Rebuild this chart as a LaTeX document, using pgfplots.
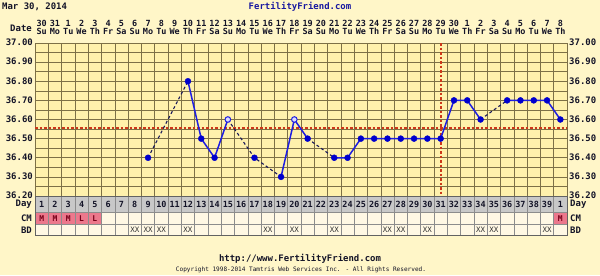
\documentclass[border=0pt]{standalone}
\usepackage{fontspec}
\usepackage{pgfplots}
\pgfplotsset{compat=1.18}
\newfontfamily\px{DejaVu Sans Mono}
\definecolor{pagebg}{RGB}{255,246,200}
\definecolor{plotbg}{RGB}{255,241,172}
\definecolor{gridc}{RGB}{125,112,70}
\definecolor{txt}{RGB}{20,20,40}
\definecolor{ttl}{RGB}{25,25,160}
\definecolor{daybg}{RGB}{200,200,200}
\definecolor{cellbd}{RGB}{140,140,140}
\definecolor{cream}{RGB}{255,248,228}
\definecolor{pink}{RGB}{236,120,140}
\definecolor{mtxt}{RGB}{120,0,25}
\definecolor{xxtxt}{RGB}{50,50,50}
\definecolor{linec}{RGB}{30,30,225}
\definecolor{markc}{RGB}{0,0,205}
\definecolor{dashc}{RGB}{25,25,90}
\definecolor{redl}{RGB}{205,55,25}
\pgfplotstableread{
x y
9 36.4
12 36.8
13 36.5
14 36.4
17 36.4
19 36.3
21 36.5
23 36.4
24 36.4
25 36.5
26 36.5
27 36.5
28 36.5
29 36.5
30 36.5
31 36.5
32 36.7
33 36.7
34 36.6
36 36.7
37 36.7
38 36.7
39 36.7
40 36.6
}\filled
\pgfplotstableread{
x y
15 36.6
20 36.6
}\open
\begin{document}
\begin{tikzpicture}[x=1bp,y=1bp,
  lab/.style={font=\px\bfseries\fontsize{9}{10}\selectfont, text=txt, inner sep=0pt},
  sml/.style={font=\px\bfseries\fontsize{8.5}{10}\selectfont, text=txt, inner sep=0pt}]
\fill[pagebg] (0,0) rectangle (600,275);
\useasboundingbox (0,0) rectangle (600,275);
% titles
\node[lab, anchor=west] at (2,268) {Mar 30, 2014};
\node[lab, text=ttl] at (300,268) {FertilityFriend.com};
% header
\node[lab, anchor=east] at (32,247) {Date};
\foreach \d [count=\i] in {30,31,1,2,3,4,5,6,7,8,9,10,11,12,13,14,15,16,17,18,19,20,21,22,23,24,25,26,27,28,29,30,1,2,3,4,5,6,7,8}
  \node[sml] at ({35+(\i-0.5)*13.3},252) {\d};
\foreach \w [count=\i] in {Su,Mo,Tu,We,Th,Fr,Sa,Su,Mo,Tu,We,Th,Fr,Sa,Su,Mo,Tu,We,Th,Fr,Sa,Su,Mo,Tu,We,Th,Fr,Sa,Su,Mo,Tu,We,Th,Fr,Sa,Su,Mo,Tu,We,Th}
  \node[sml] at ({35+(\i-0.5)*13.3},243.5) {\w};
% axis
\begin{axis}[at={(35bp,79bp)}, anchor=south west, width=532bp, height=153bp,
  scale only axis, xmin=0.5, xmax=40.5, ymin=36.2, ymax=37.0,
  axis background/.style={fill=plotbg},
  xtick={1.5,2.5,...,39.5}, xticklabel=\empty,
  ytick={36.3,36.4,36.5,36.6,36.7,36.8,36.9}, yticklabel=\empty,
  minor ytick={36.25,36.35,36.45,36.55,36.65,36.75,36.85,36.95},
  grid=both, grid style={gridc, line width=0.6bp},
  minor grid style={gridc, line width=0.6bp},
  major tick length=0pt, minor tick length=0pt,
  axis line style={gridc, line width=0.8bp},
  clip=false]
\addplot[redl, line width=2.2bp, dash pattern=on 2.5bp off 2bp] coordinates {(0.5,36.555) (40.5,36.555)};
\addplot[redl, line width=2.2bp, dash pattern=on 2.5bp off 2bp] coordinates {(31,37.0) (31,36.2)};
% dashed gaps
\addplot[dashc, line width=1.1bp, dash pattern=on 3bp off 2.5bp] coordinates {(9,36.4) (12,36.8)};
\addplot[dashc, line width=1.1bp, dash pattern=on 3bp off 2.5bp] coordinates {(15,36.6) (17,36.4) (19,36.3)};
\addplot[dashc, line width=1.1bp, dash pattern=on 3bp off 2.5bp] coordinates {(21,36.5) (23,36.4)};
\addplot[dashc, line width=1.1bp, dash pattern=on 3bp off 2.5bp] coordinates {(34,36.6) (36,36.7)};
% solid segments
\addplot[linec, line width=1.5bp] coordinates {(12,36.8) (13,36.5) (14,36.4) (15,36.6)};
\addplot[linec, line width=1.5bp] coordinates {(19,36.3) (20,36.6) (21,36.5)};
\addplot[linec, line width=1.5bp] coordinates {(23,36.4) (24,36.4) (25,36.5) (26,36.5) (27,36.5) (28,36.5) (29,36.5) (30,36.5) (31,36.5) (32,36.7) (33,36.7) (34,36.6)};
\addplot[linec, line width=1.5bp] coordinates {(36,36.7) (37,36.7) (38,36.7) (39,36.7) (40,36.6)};
% marks
\addplot[only marks, mark=*, mark size=3bp, mark options={fill=markc, draw=markc}] table[x=x,y=y] {\filled};
\addplot[only marks, mark=*, mark size=2.8bp, mark options={fill=white!85!blue, draw=linec, line width=1bp}] table[x=x,y=y] {\open};
\end{axis}
% y labels
\foreach \v [count=\k from 0] in {36.20,36.30,36.40,36.50,36.60,36.70,36.80,36.90,37.00} {
  \node[lab, anchor=east] at (33,{79+\k*19.125+0.5}) {\v};
  \node[lab, anchor=west] at (569,{79+\k*19.125+0.5}) {\v};
}
% table rows
\foreach \i in {1,...,40} {
  \pgfmathsetmacro\xa{35+(\i-1)*13.3}
  \pgfmathsetmacro\xb{35+\i*13.3}
  \pgfmathsetmacro\xc{35+(\i-0.5)*13.3}
  \pgfmathtruncatemacro\dn{\i<40 ? \i : 1}
  \filldraw[fill=daybg, draw=cellbd, line width=0.6bp] (\xa,62.3) rectangle (\xb,79);
  \node[sml] at (\xc,70.6) {\dn};
  \filldraw[fill=cream, draw=cellbd, line width=0.6bp] (\xa,50.7) rectangle (\xb,62.3);
  \filldraw[fill=cream, draw=cellbd, line width=0.6bp] (\xa,39.5) rectangle (\xb,50.7);
}
\foreach \i/\t in {1/M,2/M,3/M,4/L,5/L,40/M} {
  \pgfmathsetmacro\xa{35+(\i-1)*13.3}
  \pgfmathsetmacro\xb{35+\i*13.3}
  \pgfmathsetmacro\xc{35+(\i-0.5)*13.3}
  \filldraw[fill=pink, draw=cellbd, line width=0.6bp] (\xa,50.7) rectangle (\xb,62.3);
  \node[lab, text=mtxt, font=\px\bfseries\fontsize{8}{9}\selectfont] at (\xc,56.5) {\t};
}
\foreach \i in {8,9,10,12,18,20,23,27,28,30,34,35,39} {
  \pgfmathsetmacro\xc{35+(\i-0.5)*13.3}
  \node[inner sep=0pt, text=xxtxt, font=\px\fontsize{7.5}{8}\selectfont] at (\xc,45.1) {XX};
}
\draw[cellbd!70!black, line width=0.7bp] (35,39.5) rectangle (567,79);
\node[lab, anchor=east] at (32,70.6) {Day};
\node[lab, anchor=east] at (32,56.5) {CM};
\node[lab, anchor=east] at (32,45.1) {BD};
\node[lab, anchor=west] at (570,70.6) {Day};
\node[lab, anchor=west] at (570,56.5) {CM};
\node[lab, anchor=west] at (570,45.1) {BD};
% footer
\node[lab] at (300,16) {http://www.FertilityFriend.com};
\node[inner sep=0pt, text=txt, font=\px\fontsize{6.1}{7}\selectfont] at (301,5) {Copyright 1998-2014 Tamtris Web Services Inc. - All Rights Reserved.};
\end{tikzpicture}
\end{document}
